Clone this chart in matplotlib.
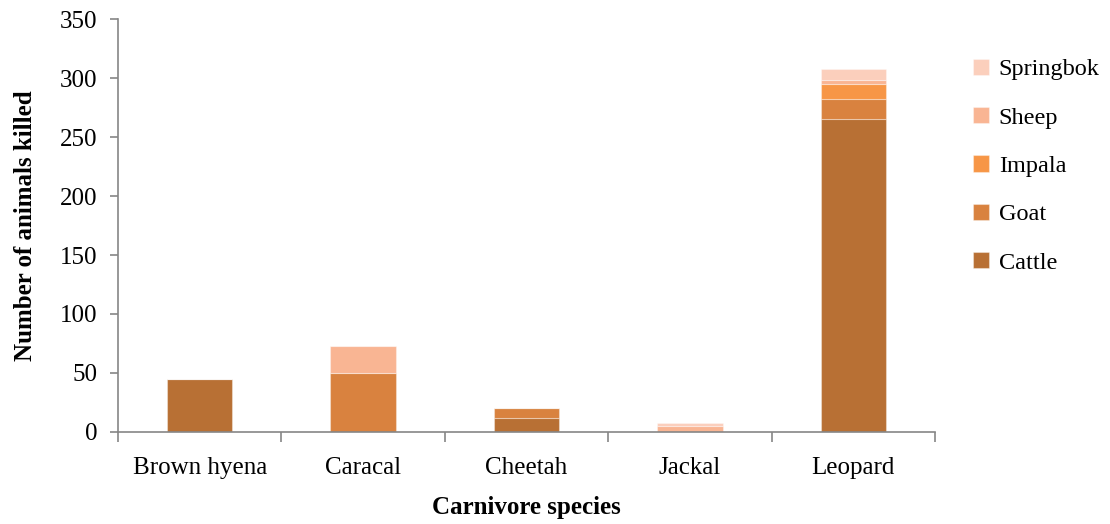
import matplotlib.pyplot as plt
import numpy as np

species = ["Brown hyena", "Caracal", "Cheetah", "Jackal", "Leopard"]
prey = ["Cattle", "Goat", "Impala", "Sheep", "Springbok"]

cattle = [45, 0, 12, 0, 265]
goat = [0, 50, 8, 0, 17]
impala = [0, 0, 0, 0, 13]
sheep = [0, 23, 0, 5, 3]
springbok = [0, 0, 0, 3, 10]

colors = ["#B87034", "#D9823F", "#F79646", "#F9B593", "#FBCFBC"]

plt.rcParams['font.family'] = ['Liberation Serif', 'DejaVu Serif']

fig = plt.figure(figsize=(11.1, 5.24), dpi=100)
ax = fig.add_axes([0.1063, 0.1756, 0.7360, 0.7881])

x = np.arange(len(species))
bottom = np.zeros(len(species))
for name, vals, c in zip(prey, [cattle, goat, impala, sheep, springbok], colors):
    ax.bar(x, vals, 0.40, bottom=bottom, color=c, edgecolor=(1, 1, 1, 0.35),
           linewidth=0.8, label=name)
    bottom += np.array(vals)

ax.set_xlim(-0.5, 4.5)
ax.set_ylim(0, 350)
ax.set_yticks(range(0, 351, 50))
ax.set_xticks(x)
ax.set_xticklabels(species, fontsize=18)
ax.set_xticks(np.arange(-0.5, 4.6, 1), minor=True)
ax.tick_params(axis='x', which='major', length=0, pad=18)
ax.tick_params(axis='x', which='minor', length=7, color='#868686', width=1.2)
ax.tick_params(axis='y', length=6, color='#868686', width=1.2, labelsize=18, pad=9)

for s in ['top', 'right']:
    ax.spines[s].set_visible(False)
for s in ['left', 'bottom']:
    ax.spines[s].set_color('#868686')
    ax.spines[s].set_linewidth(1.2)

ax.set_xlabel("Carnivore species", fontsize=18, fontweight='bold', labelpad=12)
ax.set_ylabel("Number of animals killed", fontsize=18, fontweight='bold', labelpad=16)

handles, labels = ax.get_legend_handles_labels()
fig.legend(handles[::-1], labels[::-1], loc='upper left',
           bbox_to_anchor=(0.857, 0.93), frameon=False, fontsize=17.5,
           handlelength=0.65, handleheight=0.65, handletextpad=0.4,
           labelspacing=1.1)

fig.savefig("out.png", dpi=100)
